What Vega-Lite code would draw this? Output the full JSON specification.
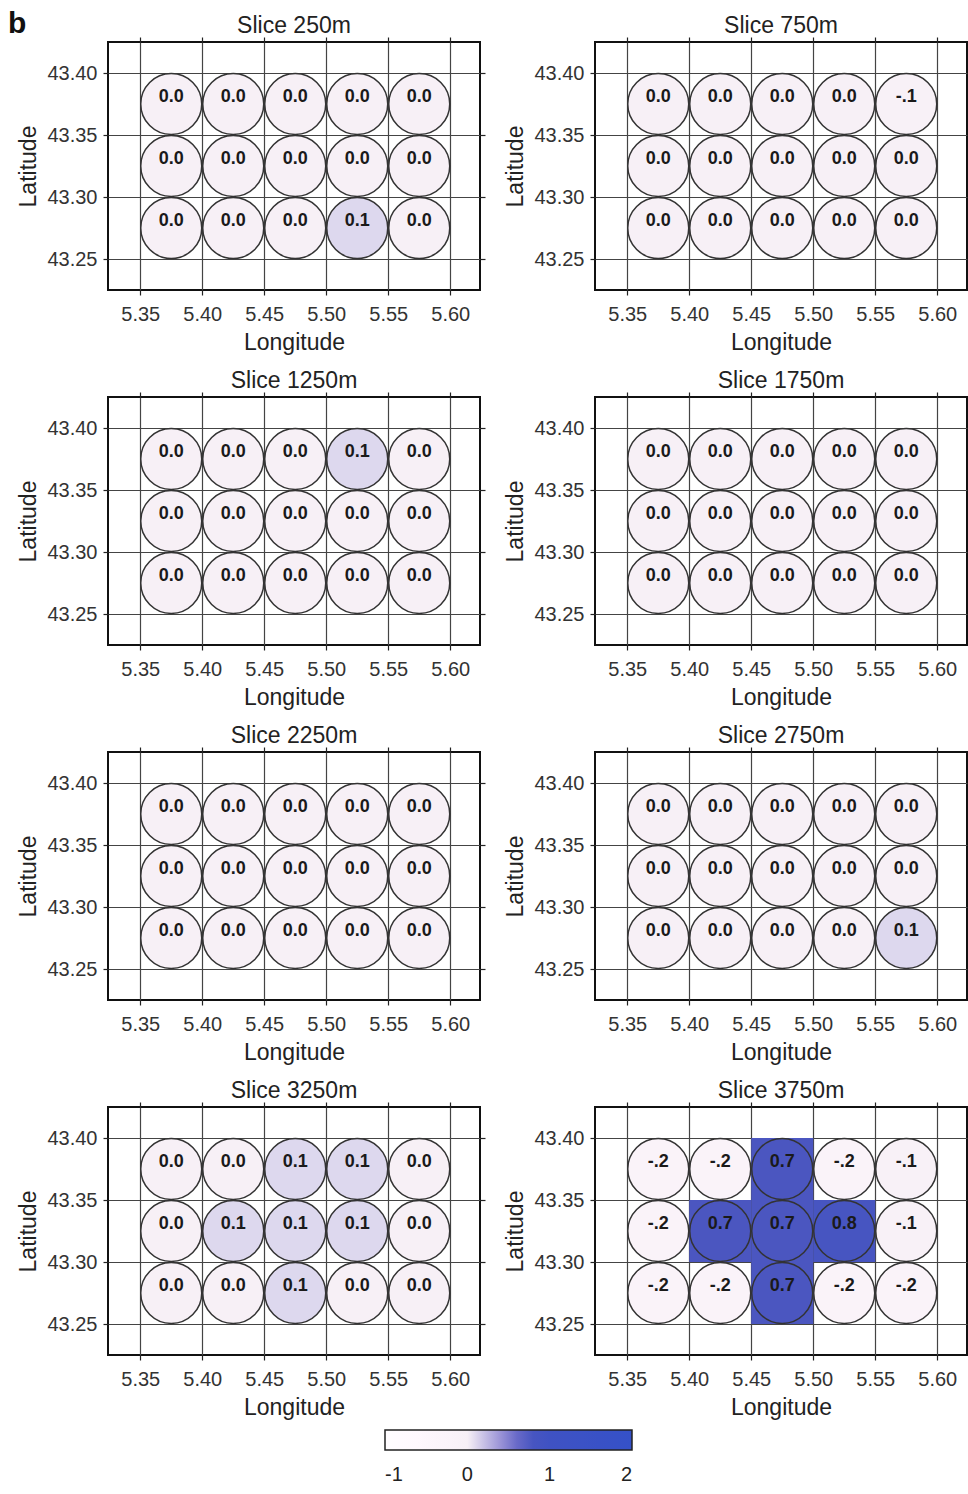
{
  "$schema": "https://vega.github.io/schema/vega-lite/v6.json",
  "bounds": "flush",
  "padding": {"left": 7, "top": 9, "right": 0, "bottom": 0},
  "background": "white",
  "title": {"text": "b", "anchor": "start", "frame": "bounds", "fontSize": 30, "fontWeight": "bold", "font": "Liberation Sans", "color": "#111", "offset": -25, "dx": -9},
  "data": {"values": [
    {"d":250,"x":5.375,"y":43.375,"v":0,"t":"0.0"},{"d":250,"x":5.425,"y":43.375,"v":0,"t":"0.0"},{"d":250,"x":5.475,"y":43.375,"v":0,"t":"0.0"},{"d":250,"x":5.525,"y":43.375,"v":0,"t":"0.0"},{"d":250,"x":5.575,"y":43.375,"v":0,"t":"0.0"},
    {"d":250,"x":5.375,"y":43.325,"v":0,"t":"0.0"},{"d":250,"x":5.425,"y":43.325,"v":0,"t":"0.0"},{"d":250,"x":5.475,"y":43.325,"v":0,"t":"0.0"},{"d":250,"x":5.525,"y":43.325,"v":0,"t":"0.0"},{"d":250,"x":5.575,"y":43.325,"v":0,"t":"0.0"},
    {"d":250,"x":5.375,"y":43.275,"v":0,"t":"0.0"},{"d":250,"x":5.425,"y":43.275,"v":0,"t":"0.0"},{"d":250,"x":5.475,"y":43.275,"v":0,"t":"0.0"},{"d":250,"x":5.525,"y":43.275,"v":0.1,"t":"0.1"},{"d":250,"x":5.575,"y":43.275,"v":0,"t":"0.0"},
    {"d":750,"x":5.375,"y":43.375,"v":0,"t":"0.0"},{"d":750,"x":5.425,"y":43.375,"v":0,"t":"0.0"},{"d":750,"x":5.475,"y":43.375,"v":0,"t":"0.0"},{"d":750,"x":5.525,"y":43.375,"v":0,"t":"0.0"},{"d":750,"x":5.575,"y":43.375,"v":-0.1,"t":"-.1"},
    {"d":750,"x":5.375,"y":43.325,"v":0,"t":"0.0"},{"d":750,"x":5.425,"y":43.325,"v":0,"t":"0.0"},{"d":750,"x":5.475,"y":43.325,"v":0,"t":"0.0"},{"d":750,"x":5.525,"y":43.325,"v":0,"t":"0.0"},{"d":750,"x":5.575,"y":43.325,"v":0,"t":"0.0"},
    {"d":750,"x":5.375,"y":43.275,"v":0,"t":"0.0"},{"d":750,"x":5.425,"y":43.275,"v":0,"t":"0.0"},{"d":750,"x":5.475,"y":43.275,"v":0,"t":"0.0"},{"d":750,"x":5.525,"y":43.275,"v":0,"t":"0.0"},{"d":750,"x":5.575,"y":43.275,"v":0,"t":"0.0"},
    {"d":1250,"x":5.375,"y":43.375,"v":0,"t":"0.0"},{"d":1250,"x":5.425,"y":43.375,"v":0,"t":"0.0"},{"d":1250,"x":5.475,"y":43.375,"v":0,"t":"0.0"},{"d":1250,"x":5.525,"y":43.375,"v":0.1,"t":"0.1"},{"d":1250,"x":5.575,"y":43.375,"v":0,"t":"0.0"},
    {"d":1250,"x":5.375,"y":43.325,"v":0,"t":"0.0"},{"d":1250,"x":5.425,"y":43.325,"v":0,"t":"0.0"},{"d":1250,"x":5.475,"y":43.325,"v":0,"t":"0.0"},{"d":1250,"x":5.525,"y":43.325,"v":0,"t":"0.0"},{"d":1250,"x":5.575,"y":43.325,"v":0,"t":"0.0"},
    {"d":1250,"x":5.375,"y":43.275,"v":0,"t":"0.0"},{"d":1250,"x":5.425,"y":43.275,"v":0,"t":"0.0"},{"d":1250,"x":5.475,"y":43.275,"v":0,"t":"0.0"},{"d":1250,"x":5.525,"y":43.275,"v":0,"t":"0.0"},{"d":1250,"x":5.575,"y":43.275,"v":0,"t":"0.0"},
    {"d":1750,"x":5.375,"y":43.375,"v":0,"t":"0.0"},{"d":1750,"x":5.425,"y":43.375,"v":0,"t":"0.0"},{"d":1750,"x":5.475,"y":43.375,"v":0,"t":"0.0"},{"d":1750,"x":5.525,"y":43.375,"v":0,"t":"0.0"},{"d":1750,"x":5.575,"y":43.375,"v":0,"t":"0.0"},
    {"d":1750,"x":5.375,"y":43.325,"v":0,"t":"0.0"},{"d":1750,"x":5.425,"y":43.325,"v":0,"t":"0.0"},{"d":1750,"x":5.475,"y":43.325,"v":0,"t":"0.0"},{"d":1750,"x":5.525,"y":43.325,"v":0,"t":"0.0"},{"d":1750,"x":5.575,"y":43.325,"v":0,"t":"0.0"},
    {"d":1750,"x":5.375,"y":43.275,"v":0,"t":"0.0"},{"d":1750,"x":5.425,"y":43.275,"v":0,"t":"0.0"},{"d":1750,"x":5.475,"y":43.275,"v":0,"t":"0.0"},{"d":1750,"x":5.525,"y":43.275,"v":0,"t":"0.0"},{"d":1750,"x":5.575,"y":43.275,"v":0,"t":"0.0"},
    {"d":2250,"x":5.375,"y":43.375,"v":0,"t":"0.0"},{"d":2250,"x":5.425,"y":43.375,"v":0,"t":"0.0"},{"d":2250,"x":5.475,"y":43.375,"v":0,"t":"0.0"},{"d":2250,"x":5.525,"y":43.375,"v":0,"t":"0.0"},{"d":2250,"x":5.575,"y":43.375,"v":0,"t":"0.0"},
    {"d":2250,"x":5.375,"y":43.325,"v":0,"t":"0.0"},{"d":2250,"x":5.425,"y":43.325,"v":0,"t":"0.0"},{"d":2250,"x":5.475,"y":43.325,"v":0,"t":"0.0"},{"d":2250,"x":5.525,"y":43.325,"v":0,"t":"0.0"},{"d":2250,"x":5.575,"y":43.325,"v":0,"t":"0.0"},
    {"d":2250,"x":5.375,"y":43.275,"v":0,"t":"0.0"},{"d":2250,"x":5.425,"y":43.275,"v":0,"t":"0.0"},{"d":2250,"x":5.475,"y":43.275,"v":0,"t":"0.0"},{"d":2250,"x":5.525,"y":43.275,"v":0,"t":"0.0"},{"d":2250,"x":5.575,"y":43.275,"v":0,"t":"0.0"},
    {"d":2750,"x":5.375,"y":43.375,"v":0,"t":"0.0"},{"d":2750,"x":5.425,"y":43.375,"v":0,"t":"0.0"},{"d":2750,"x":5.475,"y":43.375,"v":0,"t":"0.0"},{"d":2750,"x":5.525,"y":43.375,"v":0,"t":"0.0"},{"d":2750,"x":5.575,"y":43.375,"v":0,"t":"0.0"},
    {"d":2750,"x":5.375,"y":43.325,"v":0,"t":"0.0"},{"d":2750,"x":5.425,"y":43.325,"v":0,"t":"0.0"},{"d":2750,"x":5.475,"y":43.325,"v":0,"t":"0.0"},{"d":2750,"x":5.525,"y":43.325,"v":0,"t":"0.0"},{"d":2750,"x":5.575,"y":43.325,"v":0,"t":"0.0"},
    {"d":2750,"x":5.375,"y":43.275,"v":0,"t":"0.0"},{"d":2750,"x":5.425,"y":43.275,"v":0,"t":"0.0"},{"d":2750,"x":5.475,"y":43.275,"v":0,"t":"0.0"},{"d":2750,"x":5.525,"y":43.275,"v":0,"t":"0.0"},{"d":2750,"x":5.575,"y":43.275,"v":0.1,"t":"0.1"},
    {"d":3250,"x":5.375,"y":43.375,"v":0,"t":"0.0"},{"d":3250,"x":5.425,"y":43.375,"v":0,"t":"0.0"},{"d":3250,"x":5.475,"y":43.375,"v":0.1,"t":"0.1"},{"d":3250,"x":5.525,"y":43.375,"v":0.1,"t":"0.1"},{"d":3250,"x":5.575,"y":43.375,"v":0,"t":"0.0"},
    {"d":3250,"x":5.375,"y":43.325,"v":0,"t":"0.0"},{"d":3250,"x":5.425,"y":43.325,"v":0.1,"t":"0.1"},{"d":3250,"x":5.475,"y":43.325,"v":0.1,"t":"0.1"},{"d":3250,"x":5.525,"y":43.325,"v":0.1,"t":"0.1"},{"d":3250,"x":5.575,"y":43.325,"v":0,"t":"0.0"},
    {"d":3250,"x":5.375,"y":43.275,"v":0,"t":"0.0"},{"d":3250,"x":5.425,"y":43.275,"v":0,"t":"0.0"},{"d":3250,"x":5.475,"y":43.275,"v":0.1,"t":"0.1"},{"d":3250,"x":5.525,"y":43.275,"v":0,"t":"0.0"},{"d":3250,"x":5.575,"y":43.275,"v":0,"t":"0.0"},
    {"d":3750,"x":5.375,"y":43.375,"v":-0.2,"t":"-.2"},{"d":3750,"x":5.425,"y":43.375,"v":-0.2,"t":"-.2"},{"d":3750,"x":5.475,"y":43.375,"v":0.7,"t":"0.7"},{"d":3750,"x":5.525,"y":43.375,"v":-0.2,"t":"-.2"},{"d":3750,"x":5.575,"y":43.375,"v":-0.1,"t":"-.1"},
    {"d":3750,"x":5.375,"y":43.325,"v":-0.2,"t":"-.2"},{"d":3750,"x":5.425,"y":43.325,"v":0.7,"t":"0.7"},{"d":3750,"x":5.475,"y":43.325,"v":0.7,"t":"0.7"},{"d":3750,"x":5.525,"y":43.325,"v":0.8,"t":"0.8"},{"d":3750,"x":5.575,"y":43.325,"v":-0.1,"t":"-.1"},
    {"d":3750,"x":5.375,"y":43.275,"v":-0.2,"t":"-.2"},{"d":3750,"x":5.425,"y":43.275,"v":-0.2,"t":"-.2"},{"d":3750,"x":5.475,"y":43.275,"v":0.7,"t":"0.7"},{"d":3750,"x":5.525,"y":43.275,"v":-0.2,"t":"-.2"},{"d":3750,"x":5.575,"y":43.275,"v":-0.2,"t":"-.2"}
  ]},
  "facet": {"field": "d", "type": "ordinal", "sort": "ascending", "header": {"title": null, "labelExpr": "'Slice ' + datum.value + 'm'"}},
  "columns": 2,
  "spacing": {"column": 115, "row": 107},
  "resolve": {"axis": {"x": "independent", "y": "independent"}},
  "spec": {
    "width": 372,
    "height": 248,
    "resolve": {"axis": {"x": "independent", "y": "independent"}},
    "layer": [
      {
        "transform": [{"filter": "datum.v >= 0.5"}],
        "mark": {"type": "point", "shape": "square", "filled": true, "size": 3844, "opacity": 1, "strokeWidth": 0},
        "encoding": {
          "x": {"field": "x", "type": "quantitative", "scale": {"domain": [5.324, 5.624], "nice": false, "zero": false},
                "axis": {"orient": "bottom", "title": "Longitude", "values": [5.35, 5.4, 5.45, 5.5, 5.55, 5.6], "format": ".2f", "grid": true, "ticks": true}},
          "y": {"field": "y", "type": "quantitative", "scale": {"domain": [43.225, 43.425], "nice": false, "zero": false},
                "axis": {"orient": "left", "title": "Latitude", "values": [43.25, 43.3, 43.35, 43.4], "format": ".2f", "grid": true, "ticks": true}},
          "fill": {"field": "v", "type": "quantitative",
                   "scale": {"domain": [-1, 0, 0.1, 0.7, 1, 2], "range": ["#ffffff", "#f7f0f6", "#ddd8ee", "#4b56c0", "#3f52c3", "#3551c8"]},
                   "legend": {"title": null, "orient": "none", "direction": "horizontal", "legendX": 277, "legendY": 1388, "values": [-1, 0, 1, 2], "labelExpr": "'' + datum.value", "gradientLength": 247, "gradientThickness": 20, "gradientStrokeColor": "#222", "gradientStrokeWidth": 1.5, "labelFontSize": 20, "labelFont": "Liberation Sans", "labelColor": "#222", "labelOffset": 15}}
        }
      },
      {
        "mark": {"type": "point", "shape": "circle", "filled": true, "size": 3721, "opacity": 1, "stroke": "#333", "strokeWidth": 1.5},
        "encoding": {
          "x": {"field": "x", "type": "quantitative", "scale": {"domain": [5.324, 5.624], "nice": false, "zero": false},
                "axis": {"orient": "top", "title": null, "labels": false, "values": [5.35, 5.4, 5.45, 5.5, 5.55, 5.6], "grid": false, "ticks": true}},
          "y": {"field": "y", "type": "quantitative", "scale": {"domain": [43.225, 43.425], "nice": false, "zero": false},
                "axis": {"orient": "right", "title": null, "labels": false, "values": [43.25, 43.3, 43.35, 43.4], "grid": false, "ticks": true}},
          "fill": {"field": "v", "type": "quantitative"}
        }
      },
      {
        "mark": {"type": "text", "font": "Liberation Sans", "fontSize": 18, "fontWeight": "bold", "color": "#1a1a1a", "dy": -7},
        "encoding": {
          "x": {"field": "x", "type": "quantitative", "axis": null},
          "y": {"field": "y", "type": "quantitative", "axis": null},
          "text": {"field": "t", "type": "nominal"}
        }
      }
    ]
  },
  "config": {
    "view": {"stroke": "#111", "strokeWidth": 2},
    "font": "Liberation Sans",
    "axis": {"labelFont": "Liberation Sans", "labelFontSize": 20, "labelColor": "#333", "titleFont": "Liberation Sans", "titleFontSize": 23, "titleFontWeight": "normal", "titleColor": "#222", "tickColor": "#222", "tickSize": 5, "tickWidth": 1.2, "gridColor": "#444", "gridOpacity": 1, "gridWidth": 1.2, "domain": false, "labelPadding": 9, "titlePadding": 7},
    "axisY": {"titlePadding": 6, "labelPadding": 6},
    "header": {"labelFont": "Liberation Sans", "labelFontSize": 23, "labelColor": "#222", "labelPadding": -2}
  }
}
